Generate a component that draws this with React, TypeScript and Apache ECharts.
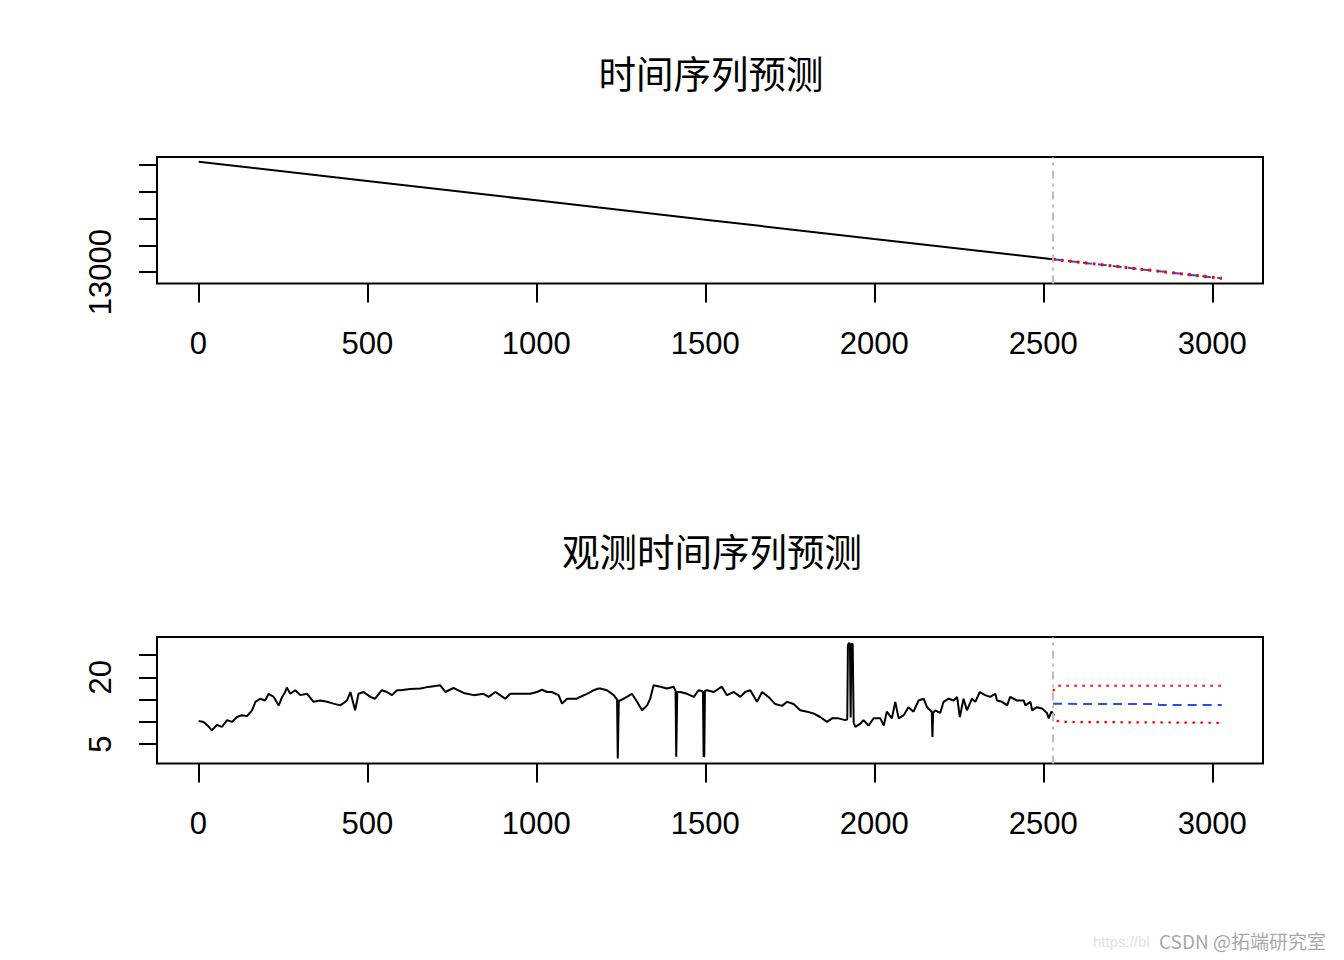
import React, { useEffect, useRef } from "react";
import * as echarts from "echarts";

// ---- axes ----
const xTicks = [0, 500, 1000, 1500, 2000, 2500, 3000];
const topYTicks = [13000, 14000, 15000, 16000, 17000];
const topYLabels = [13000];
const botYTicks = [5, 10, 15, 20, 25];
const botYLabels = [5, 20];
const forecastStart = 2528;

// ---- top panel: time series ----
const topObsIdx = [1, 500, 1000, 1500, 2000, 2528];
const topObsVal = [17120, 16400, 15680, 14960, 14240, 13485];
const topFcIdx = [2529, 2780, 3028];
const topFcMean = [13483, 13125, 12770];
const topFcUpper = [13498, 13140, 12787];
const topFcLower = [13468, 13110, 12753];

// ---- bottom panel: observed series ----
const botObsIdx = [
  1, 16, 31, 40, 55, 70, 85, 100, 114, 129, 144, 159, 169, 183, 198, 208, 223, 238, 248, 257,
  262, 272, 287, 302, 322, 341, 361, 381, 400, 420, 440, 450, 464, 474, 489, 509, 523, 543, 558, 573,
  588, 598, 627, 657, 677, 686, 716, 731, 755, 785, 815, 844, 859, 879, 893, 908, 923, 953, 982, 1002,
  1017, 1032, 1046, 1066, 1076, 1091, 1101, 1120, 1130, 1150, 1160, 1170, 1184, 1189, 1209, 1229, 1239, 1241, 1244, 1249,
  1268, 1283, 1298, 1313, 1328, 1337, 1347, 1367, 1387, 1406, 1412, 1414, 1417, 1426, 1446, 1466, 1480, 1493, 1495, 1497,
  1499, 1505, 1525, 1549, 1564, 1584, 1604, 1618, 1633, 1653, 1668, 1687, 1707, 1727, 1742, 1761, 1781, 1801, 1820, 1840,
  1860, 1875, 1894, 1914, 1920, 1922, 1925, 1928, 1930, 1932, 1936, 1939, 1944, 1959, 1968, 1983, 1998, 2018, 2028, 2037,
  2052, 2062, 2072, 2087, 2101, 2116, 2131, 2146, 2156, 2170, 2172, 2174, 2180, 2195, 2205, 2220, 2235, 2245, 2253, 2264,
  2274, 2289, 2299, 2312, 2328, 2343, 2358, 2363, 2378, 2393, 2402, 2422, 2442, 2447, 2462, 2467, 2481, 2496, 2511, 2516,
  2524, 2528,
];
const botObsVal = [
  10.2, 10.0, 8.9, 8.1, 9.3, 8.9, 10.4, 10.0, 11.1, 11.5, 11.3, 12.6, 14.5, 15.2, 14.8, 16.3, 15.6, 13.7, 15.6, 16.7,
  17.7, 16.3, 17.1, 16.0, 16.3, 14.5, 14.8, 14.5, 14.1, 13.7, 14.8, 16.7, 12.6, 16.3, 16.7, 15.6, 15.2, 17.1, 16.7, 16.0,
  17.1, 17.1, 17.4, 17.5, 17.8, 17.9, 18.2, 16.7, 17.6, 16.5, 16.0, 16.3, 15.6, 16.7, 16.0, 15.2, 16.3, 16.3, 16.3, 16.7,
  17.2, 16.7, 16.7, 16.0, 14.1, 15.2, 15.2, 15.2, 15.6, 16.3, 16.7, 17.1, 17.5, 17.5, 17.1, 16.0, 15.0, 1.8, 14.8, 14.8,
  15.6, 16.3, 14.5, 12.6, 13.7, 15.2, 18.2, 17.9, 17.5, 17.9, 17.0, 2.2, 16.7, 16.7, 16.3, 15.6, 17.1, 16.8, 2.2, 2.3,
  17.0, 17.1, 16.7, 17.9, 16.0, 16.7, 15.6, 16.7, 17.1, 14.5, 16.7, 15.6, 14.0, 13.6, 14.5, 14.0, 12.6, 12.3, 11.9, 11.1,
  10.0, 10.8, 10.8, 10.4, 10.6, 27.2, 27.7, 27.5, 11.0, 27.4, 27.5, 9.8, 8.9, 9.6, 10.4, 9.2, 10.8, 10.8, 9.2, 12.3,
  10.8, 14.5, 10.8, 11.5, 13.3, 12.3, 14.8, 15.2, 13.3, 12.3, 6.6, 12.0, 12.6, 12.0, 14.5, 15.2, 14.8, 15.6, 11.1, 15.2,
  12.6, 15.2, 14.5, 16.7, 16.0, 15.6, 16.3, 14.8, 14.5, 13.7, 15.6, 14.8, 14.8, 13.7, 14.5, 12.6, 13.3, 13.0, 12.0, 10.8,
  12.3, 12.0,
];

// ---- bottom panel: forecast ----
const botMeanIdx = [2529, 2840, 2842, 3028];
const botMeanVal = [14.05, 14.0, 13.8, 13.8];
const botUpperIdx = [2529, 2540, 3028];
const botUpperVal = [16.9, 18.1, 18.1];
const botLowerIdx = [2529, 2538, 2550, 3028];
const botLowerVal = [11.9, 10.4, 10.0, 9.8];

const zip = (xs: number[], ys: number[]) => xs.map((x, i) => [x, ys[i]]);

const GRID_LEFT = 157;
const GRID_WIDTH = 1106;
const X_MIN = -122.2;
const X_MAX = 3150.0;
const NUM_FONT = "'Liberation Sans', Arial, sans-serif";
const CJK_FONT = "'Noto Sans CJK SC', sans-serif";
const plain = (v: number) => String(v);

function xAxis(gridIndex: number) {
  return {
    type: "value",
    gridIndex,
    min: X_MIN,
    max: X_MAX,
    axisLine: { show: false, onZero: false },
    splitLine: { show: false },
    axisTick: {
      show: true,
      length: 19,
      customValues: xTicks,
      lineStyle: { color: "#000", width: 2 },
    },
    axisLabel: {
      customValues: xTicks,
      formatter: plain,
      fontSize: 31,
      color: "#000",
      fontFamily: NUM_FONT,
      margin: 44,
    },
  };
}

function yAxis(gridIndex: number, min: number, max: number, ticks: number[], labels: number[]) {
  return {
    type: "value",
    gridIndex,
    min,
    max,
    axisLine: { show: false, onZero: false },
    splitLine: { show: false },
    axisTick: {
      show: true,
      length: 18,
      customValues: ticks,
      lineStyle: { color: "#000", width: 2 },
    },
    axisLabel: {
      customValues: labels,
      formatter: plain,
      rotate: 90,
      fontSize: 31,
      color: "#000",
      fontFamily: NUM_FONT,
      margin: 41,
    },
  };
}

const lineBase = {
  type: "line",
  showSymbol: false,
  symbol: "none",
  silent: true,
  animation: false,
};

const splitMarkLine = {
  silent: true,
  symbol: "none",
  label: { show: false },
  lineStyle: { color: "#bebebe", width: 2, type: [8, 5, 3, 5] },
  data: [{ xAxis: forecastStart }],
};

const titleStyle = { fontSize: 37.5, fontWeight: "normal", color: "#000", fontFamily: CJK_FONT };

export default function App() {
  const ref = useRef<HTMLDivElement>(null);
  useEffect(() => {
    if (!ref.current) return;
    const chart = echarts.init(ref.current, undefined, { renderer: "svg" });
    const option = {
      animation: false,
      backgroundColor: "#fff",
      title: [
        { text: "时间序列预测", left: 706, top: 48, textAlign: "center", textStyle: titleStyle },
        { text: "观测时间序列预测", left: 707, top: 526, textAlign: "center", textStyle: titleStyle },
      ],
      grid: [
        { left: GRID_LEFT, width: GRID_WIDTH, top: 157, height: 126.5, show: true, borderColor: "#000", borderWidth: 2, backgroundColor: "transparent" },
        { left: GRID_LEFT, width: GRID_WIDTH, top: 637, height: 126.5, show: true, borderColor: "#000", borderWidth: 2, backgroundColor: "transparent" },
      ],
      xAxis: [xAxis(0), xAxis(1)],
      yAxis: [
        yAxis(0, 12579, 17297, topYTicks, topYLabels),
        yAxis(1, 0.68, 29.03, botYTicks, botYLabels),
      ],
      series: [
        {
          ...lineBase,
          xAxisIndex: 0,
          yAxisIndex: 0,
          data: zip(topObsIdx, topObsVal),
          lineStyle: { color: "#000", width: 2 },
          markLine: splitMarkLine,
        },
        { ...lineBase, xAxisIndex: 0, yAxisIndex: 0, data: zip(topFcIdx, topFcMean), lineStyle: { color: "#2450e6", width: 2, type: [9, 6] } },
        { ...lineBase, xAxisIndex: 0, yAxisIndex: 0, data: zip(topFcIdx, topFcUpper), lineStyle: { color: "#ff0000", width: 2.2, type: [2.5, 5.5] } },
        { ...lineBase, xAxisIndex: 0, yAxisIndex: 0, data: zip(topFcIdx, topFcLower), lineStyle: { color: "#ff0000", width: 2.2, type: [2.5, 5.5] } },
        {
          ...lineBase,
          xAxisIndex: 1,
          yAxisIndex: 1,
          data: zip(botObsIdx, botObsVal),
          lineStyle: { color: "#000", width: 2 },
          markLine: splitMarkLine,
        },
        { ...lineBase, xAxisIndex: 1, yAxisIndex: 1, data: zip(botMeanIdx, botMeanVal), lineStyle: { color: "#2450e6", width: 2, type: [9, 6] } },
        { ...lineBase, xAxisIndex: 1, yAxisIndex: 1, data: zip(botUpperIdx, botUpperVal), lineStyle: { color: "#ff0000", width: 2.2, type: [2.5, 5.5] } },
        { ...lineBase, xAxisIndex: 1, yAxisIndex: 1, data: zip(botLowerIdx, botLowerVal), lineStyle: { color: "#ff0000", width: 2.2, type: [2.5, 5.5] } },
      ],
      graphic: [
        {
          type: "text",
          left: 1093,
          top: 934,
          silent: true,
          style: { text: "https://bl", fill: "#e2e2e2", fontSize: 15, fontFamily: NUM_FONT },
        },
        {
          type: "text",
          left: 1159,
          top: 931,
          silent: true,
          style: {
            text: "CSDN @拓端研究室",
            fill: "#a8a8a8",
            fontSize: 19,
            fontFamily: CJK_FONT,
          },
        },
      ],
    };
    chart.setOption(option as any);
    return () => chart.dispose();
  }, []);
  return (
    <div
      ref={ref}
      style={{ position: "fixed", left: 0, top: 0, width: 1344, height: 960, background: "#fff" }}
    />
  );
}
